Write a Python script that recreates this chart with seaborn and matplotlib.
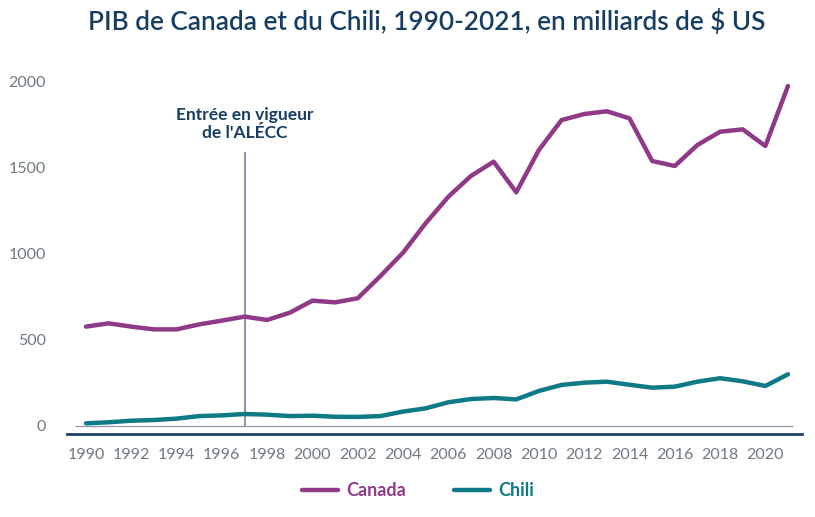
import matplotlib
matplotlib.use("Agg")
import matplotlib.pyplot as plt
from matplotlib.lines import Line2D
import seaborn as sns
import pandas as pd

years = list(range(1990, 2022))
canada = [576, 595, 576, 560, 560, 589, 611, 634, 615, 657, 727, 717, 741, 870, 1006,
          1177, 1331, 1452, 1535, 1357, 1603, 1777, 1812, 1828, 1787, 1539, 1510, 1632,
          1709, 1723, 1626, 1975]
chili = [14, 20, 29, 33, 41, 56, 60, 68, 64, 56, 58, 52, 51, 56, 82,
         101, 136, 155, 161, 153, 202, 237, 250, 256, 238, 221, 227, 256,
         276, 258, 231, 299]
series_names = ["Canada", "Chili"]
yticks = [0, 500, 1000, 1500, 2000]
xticks = list(range(1990, 2021, 2))
title = "PIB de Canada et du Chili, 1990-2021, en milliards de $ US"
annotation = "Entrée en vigueur\nde l'ALÉCC"
event_year = 1997

colors = {"Canada": "#8E3A87", "Chili": "#0E7A85"}
navy = "#173E62"
gray = "#6E7880"

df = pd.DataFrame({"Année": years * 2,
                   "Valeur": canada + chili,
                   "Pays": ["Canada"] * len(years) + ["Chili"] * len(years)})

sns.set_theme(style="white")
plt.rcParams["font.family"] = ["Lato", "DejaVu Sans"]

W, H = 815, 517
fig = plt.figure(figsize=(W / 100, H / 100), dpi=100)
left, right, bottom, top = 67, 802, 434, 70
ax = fig.add_axes([left / W, 1 - bottom / H, (right - left) / W, (bottom - top) / H])

sns.lineplot(data=df, x="Année", y="Valeur", hue="Pays", palette=colors,
             linewidth=3.2, ax=ax, legend=False, sort=False)

# pixel mapping: 1990 -> x=86, 2021 -> x=788 ; 0 -> y=425.7, 2000 -> y=81.7
x0, x1 = 86.0, 788.0
ppy = (x1 - x0) / 31
ax.set_xlim(1990 - (x0 - left) / ppy, 2021 + (right - x1) / ppy)
ppv = (425.7 - 81.7) / 2000
ax.set_ylim(-(bottom - 425.7) / ppv, (425.7 - top) / ppv)

# thin baseline at zero
ax.hlines(0, 1990 - (x0 - 75) / ppy, 2021 + (793 - x1) / ppy, color="#8A97A8", lw=0.9, zorder=1)
# event line
ax.vlines(event_year, 0, (425.7 - 152) / ppv, color="#9295AE", lw=1.5, zorder=1)
ax.text(event_year, (425.7 - 124) / ppv, annotation, ha="center", va="center",
        color=navy, fontsize=12.5, fontweight="bold", linespacing=1.15)

for s in ["top", "right", "left"]:
    ax.spines[s].set_visible(False)
ax.spines["bottom"].set_color("#1E4264")
ax.spines["bottom"].set_linewidth(2)

ax.set_xticks(xticks)
ax.set_xticklabels([str(x) for x in xticks])
ax.set_yticks(yticks)
ax.set_yticklabels([str(y) for y in yticks])
ax.tick_params(axis="both", length=0, labelcolor=gray)
ax.tick_params(axis="x", pad=10, labelsize=11.5)
ax.tick_params(axis="y", pad=15, labelsize=11.5)
ax.set_xlabel("")
ax.set_ylabel("")
ax.grid(False)

fig.text(427 / W, 1 - 22 / H, title, ha="center", va="center", color=navy,
         fontsize=18.8, fontweight="semibold")

handles = [Line2D([0], [0], color=colors[n], lw=3.2) for n in series_names]
leg = fig.legend(handles, series_names, loc="center", bbox_to_anchor=(418 / W, 1 - 491 / H),
                 ncol=2, frameon=False, fontsize=13, handlelength=2.0, columnspacing=2.7,
                 handletextpad=0.45)
for t, n in zip(leg.get_texts(), series_names):
    t.set_color(colors[n])
    t.set_fontweight("bold")

fig.savefig("out.png", dpi=100)
